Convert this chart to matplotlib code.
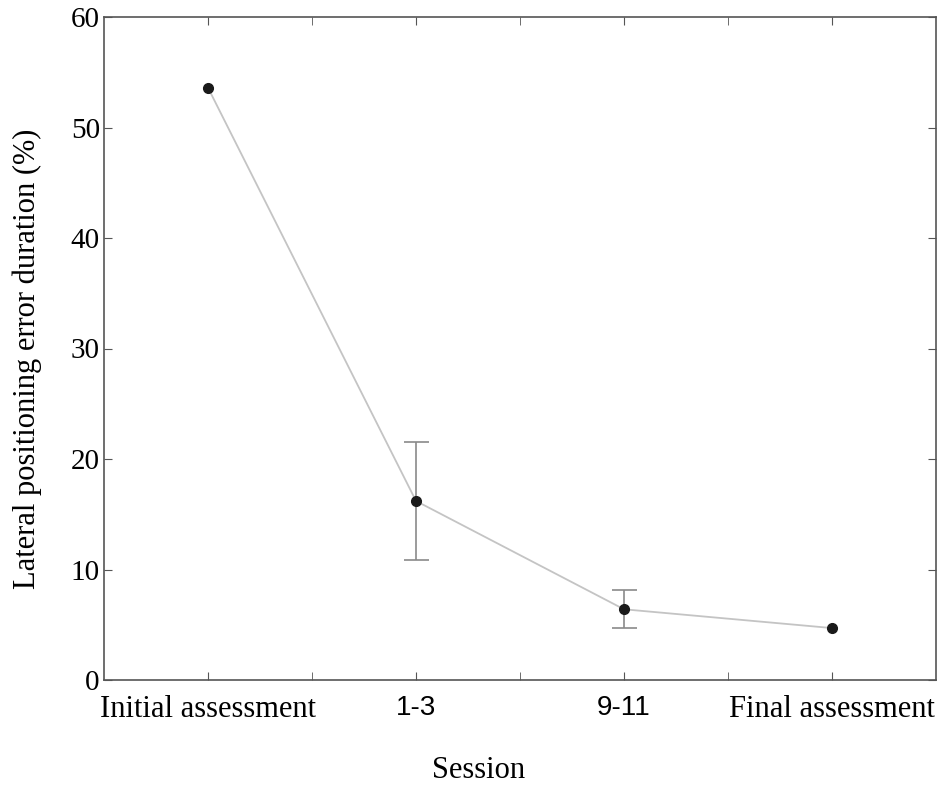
import numpy as np
import matplotlib.pyplot as plt

# data
sessions = ['Initial assessment', '1-3', '9-11', 'Final assessment']
error_pct = [53.6, 16.2, 6.4, 4.7]
error_sd = [0.0, 5.3, 1.7, 0.0]

serif = 'Liberation Serif'
sans = 'Liberation Sans'

fig = plt.figure(figsize=(9.45, 8), dpi=100)
ax = fig.add_axes([104 / 945, 1 - 680 / 800, 832 / 945, 663 / 800])

x = np.arange(1, len(sessions) + 1)
ax.plot(x, error_pct, color='#c4c4c4', lw=1.3, zorder=2)
yerr = np.array(error_sd)
mask = yerr > 0
ax.errorbar(x[mask], np.array(error_pct)[mask], yerr=yerr[mask], fmt='none',
            ecolor='#8a8a8a', elinewidth=1.2, capsize=9, capthick=1.2, zorder=3)
ax.plot(x, error_pct, 'o', color='#1a1a1a', ms=7, zorder=4)

ax.set_xlim(0.5, 4.5)
ax.set_ylim(0, 60)
ax.set_yticks(range(0, 61, 10))
ax.set_xticks(x)
ax.set_xticks(np.arange(1.5, 4.0, 1.0), minor=True)
ax.set_xticklabels(sessions)
for lbl, s in zip(ax.get_xticklabels(), sessions):
    lbl.set_fontfamily(sans if s[0].isdigit() else serif)
    lbl.set_fontsize(20 if s[0].isdigit() else 22)
for lbl in ax.get_yticklabels():
    lbl.set_fontfamily(serif)
    lbl.set_fontsize(21)

ax.tick_params(axis='x', direction='in', top=True, length=6, color='#555555', pad=11)
ax.tick_params(axis='y', direction='in', right=True, length=6, color='#555555', pad=3)
ax.tick_params(which='minor', direction='in', top=True, bottom=True, length=6, color='#555555')
for sp in ax.spines.values():
    sp.set_color('#555555')
    sp.set_linewidth(1.2)

fig.text(27 / 945, 1 - 359 / 800, 'Lateral positioning error duration (%)', family=serif,
         fontsize=22, rotation=90, ha='center', va='center')
fig.text(479 / 945, 1 - 770 / 800, 'Session', family=serif, fontsize=22, ha='center', va='center')

fig.savefig('out.png', dpi=100)
